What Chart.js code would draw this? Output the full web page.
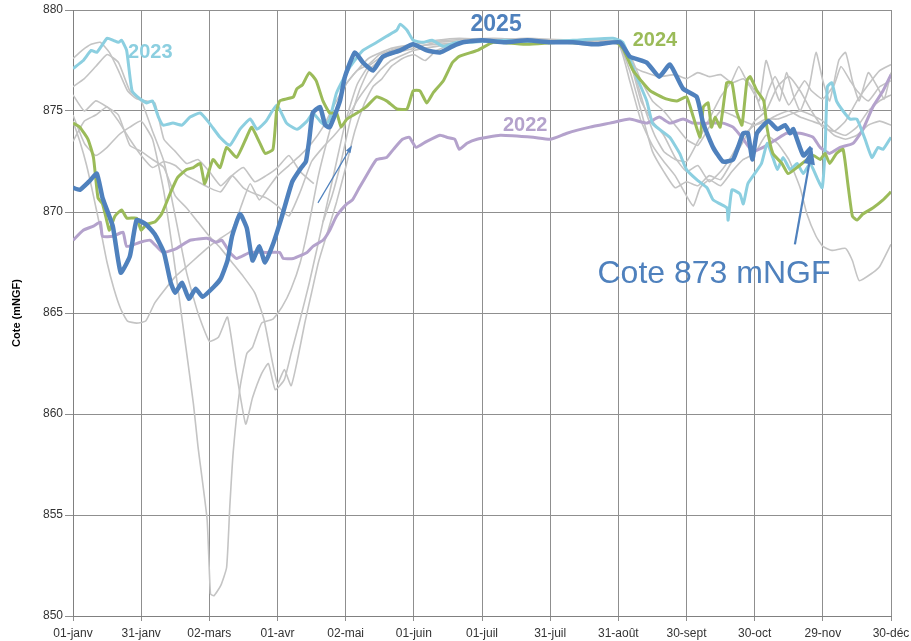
<!DOCTYPE html>
<html lang="fr">
<head>
<meta charset="utf-8">
<title>Cote (mNGF)</title>
<script src="https://cdn.jsdelivr.net/npm/chart.js@4.4.1/dist/chart.umd.min.js"></script>
<style>
  html, body { margin: 0; padding: 0; background: #fff; }
</style>
</head>
<body>
<canvas id="coteChart" width="911" height="641"></canvas>
<script>
// x = jour de l'année (0 = 01-janv), ticks tous les 30 jours
const tickLabels = ["01-janv", "31-janv", "02-mars", "01-avr", "02-mai", "01-juin", "01-juil",
  "31-juil", "31-août", "30-sept", "30-oct", "29-nov", "30-déc"];

// [jour, cote]
const annee2025 = [[0,871.2],[3,871.1],[7,871.5],[10.5,871.9],[13,870.7],[17.5,869.3],[21,867.0],[25,867.8],
  [28,869.6],[32,869.4],[36,868.9],[40,868.0],[43,866.5],[45,866.0],[48,866.5],[51,865.7],[54,866.2],[57,865.8],
  [62,866.3],[65,866.7],[68,867.6],[70,868.8],[73.5,869.9],[76.5,869.2],[79,867.6],[82,868.3],[84.5,867.5],
  [88,868.4],[92,869.8],[96.5,871.5],[100.5,872.2],[102.5,872.5],[104,873.6],[105.5,874.9],[108.7,875.2],
  [111,874.3],[113,874.2],[117.5,875.5],[119.7,876.7],[124,877.9],[127.6,877.4],[132,877.0],[136.4,877.7],
  [144,878.0],[149.6,878.3],[155.7,878.0],[161.5,877.9],[167,878.2],[171.6,878.4],[180,878.5],[190,878.4],
  [200,878.5],[210,878.4],[220,878.4],[230,878.3],[240.7,878.4],[245,877.7],[252.5,877.4],[258,876.7],
  [262.7,877.3],[268.5,876.1],[274.5,875.7],[277.3,874.4],[281.7,873.2],[286,872.5],[290.5,872.6],[295,873.9],
  [297,873.9],[299,872.6],[301,873.9],[306,874.5],[310,874.1],[313.4,874.3],[315.6,873.9],[317,874.1],
  [321.4,872.8],[325,873.2]];

const annee2024 = [[0,874.4],[3,874.2],[6.6,873.6],[9,872.7],[11,870.7],[13,870.4],[15,869.5],[16,869.1],
  [18.5,869.8],[21.4,870.1],[23.7,869.7],[28,869.7],[30,869.1],[32.4,869.4],[36,869.5],[39,869.9],[42.7,870.9],
  [46,871.7],[50,872.1],[53,872.2],[56,872.4],[58,871.4],[61.6,872.6],[64.7,872.2],[67.6,873.2],[72,872.7],
  [76.4,873.7],[78.6,874.2],[82.3,873.4],[84.6,872.9],[88,873.1],[89.6,875.0],[91,875.5],[94,875.6],[97,875.7],
  [98.5,876.1],[101,876.3],[104,876.9],[107,876.5],[110,875.5],[113,874.9],[116,874.9],[118,874.2],[120.5,874.6],
  [125,874.9],[129,875.2],[133.6,875.7],[138,875.5],[142.5,875.1],[147,875.1],[149.7,876.0],[152.7,876.0],
  [155.7,875.4],[158.5,875.9],[163,876.5],[167,877.4],[170,877.7],[178,878.0],[185,878.4],[200,878.3],
  [215,878.4],[230,878.3],[239,878.4],[242,878.1],[246.5,877.0],[250,876.5],[254,876.0],[261,875.6],
  [265.8,875.5],[270,875.7],[273,874.7],[276,873.7],[277.4,875.2],[279.5,875.4],[281,874.2],[282.6,874.7],
  [284.8,874.2],[287.7,876.4],[290,876.4],[292,875.0],[294.4,874.3],[296.6,876.5],[298,876.7],[301,876.0],
  [304,875.5],[305.4,874.2],[308,872.9],[312,872.4],[314.7,871.9],[318.6,872.2],[325.7,872.8],[328.8,872.6],
  [331,872.9],[333,872.4],[336,872.9],[338.9,873.1],[341,871.4],[343,869.8],[345,869.6],[347.6,869.9],
  [352,870.2],[356.5,870.6],[360,871.0]];

const annee2023 = [[0,877.1],[4.5,877.5],[8,878.0],[10.5,877.9],[15,878.6],[17.7,878.5],[20,878.4],[21.4,878.5],
  [23.6,878.0],[26,876.0],[29.5,875.6],[32.5,875.4],[35,875.5],[37.6,874.7],[39.7,874.3],[44,874.4],[48,874.3],
  [51.5,874.7],[56,874.9],[60,874.4],[64.7,873.7],[69,873.3],[73.5,874.1],[78,874.6],[81,874.1],[85,874.5],
  [89.7,875.3],[94,874.4],[98.6,874.1],[103,874.5],[105.6,874.9],[108.7,874.5],[111,874.3],[113,874.6],
  [116,875.9],[122,877.2],[127.6,878.0],[133.7,878.4],[138,878.7],[142.5,879.0],[144,879.3],[147,879.0],
  [149.7,878.5],[154,878.4],[158,878.5],[163,878.2],[169,878.4],[175,878.4],[190,878.5],[205,878.4],
  [220,878.5],[237.7,878.6],[242,878.4],[248,876.7],[252.5,875.5],[255,874.4],[258,874.1],[262.6,873.7],
  [267,872.9],[270,872.1],[274.5,871.6],[279,871.2],[281.7,870.6],[284.8,870.4],[287.8,870.2],[288.3,869.6],
  [290,871.1],[293.5,870.9],[295,870.4],[297,871.4],[300,871.9],[303,872.4],[305.5,873.4],[308,872.7],
  [310,872.1],[312.5,872.7],[315.6,872.1],[318.7,872.4],[321.4,871.9],[324.4,872.4],[327.4,871.7],
  [329.7,871.2],[331,873.1],[332,876.2],[334,876.4],[336,875.5],[338.9,875.0],[342,874.6],[345,874.6],
  [348.6,873.6],[351.6,872.7],[354.3,873.2],[356.5,873.1],[360,873.7]];

const annee2022 = [[0,868.6],[4.5,869.1],[9,869.3],[12,869.5],[13,868.8],[17.6,868.8],[22,869.0],[23.6,868.3],
  [29.5,868.5],[34,868.6],[39.6,868.0],[45.7,868.2],[51.5,868.6],[59,868.7],[63,868.5],[65.5,868.6],[69,868.0],
  [72,867.7],[78,868.0],[85,868.0],[91,868.0],[92.5,867.7],[97,867.7],[103,868.0],[105.6,868.3],[110,868.6],
  [113,869.1],[116,869.8],[120.5,870.4],[123,870.6],[126,871.2],[130.7,872.1],[133.6,872.6],[138,872.7],
  [141,873.1],[145,873.6],[148,873.7],[151,873.2],[155.7,873.5],[161.5,873.8],[164.5,873.7],[168,873.6],
  [170,873.1],[173.4,873.4],[177.8,873.6],[188,873.8],[202.5,873.7],[210,873.6],[217.4,873.9],[227.5,874.2],
  [236.3,874.4],[245,874.6],[252.6,874.4],[258,874.7],[262.7,874.4],[268.5,874.6],[273,874.4],[280.4,874.4],
  [286,874.4],[290.5,874.2],[295,873.6],[299,873.0],[303.7,873.2],[309.7,873.6],[314,873.9],[320,873.9],
  [325.7,873.7],[328.8,873.2],[333,872.9],[337.6,873.2],[343.3,873.4],[347.7,874.1],[352,875.2],[356.5,876.0],
  [360,876.8]];

// années antérieures (gris)
const hist1 = [[0,874.8],[5,873.4],[10,872.8],[15,873.2],[20,873.8],[25,874.2],[30,874.5],[35,873.6],[40,871.0],
  [44,868.0],[48,864.7],[53,860.5],[55,858.4],[59,854.8],[60.5,851.1],[62,851.0],[65,851.5],[67.6,852.4],
  [69,855.4],[70.5,858.1],[73.5,861.3],[76.5,863.0],[79,863.3],[83,864.5],[88,864.7],[92,865.3],[96,866.2],
  [100,867.5],[104,869.5],[108,871.8],[112,873.6],[116,875.2],[120,876.3],[125,877.0],[130,877.3],[135,877.8],
  [140,878.0],[150,878.2],[160,878.3],[175,878.4],[195,878.5],[215,878.4],[240,878.4],[245,877.5],[250,875.5],
  [255,874.5],[260,873.8],[265,872.7],[270,872.0],[275,872.3],[280,871.5],[285,872.0],[290,872.8],[295,873.8],
  [300,874.3],[305,874.6],[310,874.6],[315,874.8],[320,875.0],[325,874.8],[330,874.5],[335,874.0],[340,873.8],
  [345,874.2],[350,875.0],[355,875.5],[360,875.8]];

const hist2 = [[0,876.2],[5,876.6],[10,877.2],[15,877.8],[20,877.4],[25,876.0],[30,875.5],[35,874.0],[40,872.5],
  [45,869.8],[50,867.0],[55,865.0],[60,863.6],[64,863.8],[68,864.8],[72,862.0],[76,859.5],[79,860.8],[83,862.0],
  [86,862.5],[89,861.2],[93,861.7],[96,863.0],[100,864.7],[104,866.5],[108,868.5],[112,870.5],[116,872.5],
  [120,874.5],[125,876.3],[130,877.2],[140,878.0],[150,878.3],[160,878.5],[170,878.6],[190,878.5],[210,878.5],
  [230,878.4],[240,878.3],[245,877.0],[250,875.0],[255,873.0],[260,872.0],[265,871.2],[270,871.5],[275,871.3],
  [280,871.8],[285,871.6],[290,872.5],[295,873.5],[300,874.5],[305,875.0],[310,876.2],[315,876.7],[320,876.0],
  [325,875.0],[330,874.2],[335,874.0],[340,874.5],[345,875.5],[350,876.3],[355,877.0],[360,877.3]];

const hist3 = [[0,875.8],[5,875.0],[10,875.5],[15,875.2],[20,874.8],[25,873.3],[30,873.0],[35,872.6],[40,872.2],
  [45,870.8],[50,870.2],[55,869.5],[60,868.8],[65,868.2],[70,867.5],[75,866.8],[80,866.0],[84,864.7],[87,863.0],
  [90,861.5],[93,862.2],[96,861.4],[99,862.8],[102,864.5],[105,866.0],[108,867.5],[112,869.0],[116,870.5],
  [120,872.2],[124,874.0],[128,875.3],[132,876.2],[136,876.6],[140,877.2],[145,877.6],[150,877.8],[155,877.5],
  [160,878.0],[170,878.4],[190,878.5],[210,878.5],[230,878.5],[240,878.4],[245,877.8],[250,876.5],[255,875.5],
  [260,875.0],[265,874.3],[270,873.6],[275,873.3],[280,874.2],[285,875.0],[290,874.8],[295,874.5],[300,874.3],
  [305,874.5],[310,874.8],[315,875.0],[320,874.7],[325,874.5],[330,874.3],[335,873.8],[340,873.6],[345,873.8],
  [350,874.3],[355,874.5],[360,874.3]];

const hist4 = [[0,874.5],[3,873.5],[6,872.3],[9,870.8],[12,869.2],[15,867.5],[18,866.2],[21,865.2],[24,864.6],
  [28,864.5],[32,864.6],[36,865.5],[40,866.1],[45,866.8],[50,867.3],[55,867.8],[60,868.3],[65,868.7],[70,869.1],
  [75,870.6],[78,871.4],[82,870.6],[86,871.2],[90,871.8],[95,872.3],[100,872.8],[105,873.4],[110,874.2],
  [115,875.3],[120,876.3],[125,877.0],[130,877.6],[140,878.1],[150,878.3],[165,878.5],[185,878.6],[205,878.5],
  [225,878.4],[240,878.4],[244,877.6],[248,876.5],[252,875.0],[256,873.8],[260,873.0],[265,872.6],[270,872.5],
  [275,873.5],[280,874.6],[285,875.7],[290,876.5],[293,877.2],[296,876.6],[300,876.0],[303,875.0],[306,876.0],
  [309,876.7],[312,876.0],[315,875.3],[318,875.8],[322,876.5],[325,876.0],[330,875.6],[335,876.3],[338,877.2],
  [342,876.5],[345,876.0],[350,875.5],[355,876.2],[360,876.5]];

const hist5 = [[0,877.6],[4,878.0],[8,878.3],[12,878.4],[16,877.9],[20,877.0],[24,876.0],[28,875.6],[32,875.5],
  [36,875.4],[40,873.6],[45,873.0],[50,872.4],[55,872.6],[60,872.0],[65,871.3],[70,871.8],[75,871.2],[80,870.9],
  [85,870.7],[90,870.3],[95,869.8],[100,871.0],[105,872.5],[110,873.2],[115,873.8],[120,874.5],[125,875.5],
  [130,876.3],[135,877.0],[140,877.5],[150,878.0],[160,878.2],[175,878.4],[200,878.5],[225,878.4],[240,878.3],
  [245,876.5],[250,874.5],[255,873.3],[260,872.5],[265,871.8],[270,870.8],[273,870.3],[276,871.2],[280,871.6],
  [285,871.3],[290,872.0],[295,872.6],[300,872.9],[305,873.8],[310,873.4],[315,872.6],[320,871.2],[323,869.9],
  [327,868.8],[330,868.3],[334,868.1],[340,868.2],[343,867.6],[346,866.6],[352,867.0],[355,867.3],[360,868.4]];

const hist6 = [[0,873.5],[5,874.5],[10,874.8],[15,875.2],[20,874.5],[25,873.6],[30,872.8],[35,872.2],[40,872.5],
  [45,872.3],[50,871.8],[55,871.5],[60,871.2],[65,871.0],[70,871.8],[75,872.2],[80,871.5],[85,871.8],[90,872.2],
  [95,872.8],[100,872.0],[106,871.4],[108,null],[110,869.5],[114,870.8],[118,872.5],[122,874.5],[126,876.0],
  [130,877.0],[135,877.5],[140,877.8],[150,878.1],[160,878.4],[180,878.5],[200,878.6],[220,878.5],[240,878.4],
  [244,877.6],[248,877.1],[252,876.9],[258,876.7],[265,876.8],[270,876.6],[275,876.9],[280,876.7],[285,876.8],
  [290,876.4],[295,876.6],[298,876.2],[302,875.5],[305,877.5],[308,876.4],[311,875.5],[314,876.9],[317,875.8],
  [320,875.0],[324,876.2],[327,877.9],[330,876.5],[333,875.5],[337,877.5],[340,877.9],[343,876.5],[346,875.5],
  [350,876.9],[354,876.2],[357,875.6],[360,876.9]];

const COL_2025 = "#4f81bd";
const COL_2024 = "#9bbb59";
const COL_2023 = "#8ccfe0";
const COL_2022 = "#b4a2cc";
const COL_GRIS = "#c4c4c4";
const FONT = "'Liberation Sans', Arial, sans-serif";

const toPoints = arr => arr.map(([x, y]) => ({ x, y }));

function serie(label, data, color, width, order) {
  return {
    label,
    data: toPoints(data),
    borderColor: color,
    borderWidth: width,
    borderJoinStyle: "round",
    pointRadius: 0,
    tension: 0.15,
    spanGaps: false,
    fill: false,
    order
  };
}

// étiquettes et flèches dessinées par-dessus
const etiquettes = [
  { text: "2023", day: 34, cote: 877.9, color: COL_2023, font: "bold 20px " + FONT },
  { text: "2025", day: 186.2, cote: 879.25, color: COL_2025, font: "bold 23px " + FONT },
  { text: "2024", day: 256.1, cote: 878.5, color: COL_2024, font: "bold 20px " + FONT },
  { text: "2022", day: 199, cote: 874.3, color: COL_2022, font: "bold 20px " + FONT },
  { text: "Cote 873 mNGF", day: 282.1, cote: 866.9, color: COL_2025, font: "32px " + FONT }
];
const fleches = [
  { from: [317.7, 868.4], to: [325.3, 873.2], width: 2.2, head: 18, color: COL_2025 },
  { from: [107.8, 870.45], to: [122.8, 873.3], width: 1.2, head: 8, color: COL_2025 }
];

function drawArrow(ctx, x1, y1, x2, y2, width, head, color) {
  const ang = Math.atan2(y2 - y1, x2 - x1);
  ctx.save();
  ctx.strokeStyle = color;
  ctx.fillStyle = color;
  ctx.lineWidth = width;
  ctx.beginPath();
  ctx.moveTo(x1, y1);
  ctx.lineTo(x2 - head * 0.8 * Math.cos(ang), y2 - head * 0.8 * Math.sin(ang));
  ctx.stroke();
  ctx.beginPath();
  ctx.moveTo(x2, y2);
  ctx.lineTo(x2 - head * Math.cos(ang - 0.33), y2 - head * Math.sin(ang - 0.33));
  ctx.lineTo(x2 - head * Math.cos(ang + 0.33), y2 - head * Math.sin(ang + 0.33));
  ctx.closePath();
  ctx.fill();
  ctx.restore();
}

const annotationsPlugin = {
  id: "annotations",
  afterDatasetsDraw(chart) {
    const { ctx, scales: { x, y } } = chart;
    etiquettes.forEach(e => {
      ctx.save();
      ctx.font = e.font;
      ctx.fillStyle = e.color;
      ctx.textAlign = "center";
      ctx.textBaseline = "middle";
      ctx.fillText(e.text, x.getPixelForValue(e.day), y.getPixelForValue(e.cote));
      ctx.restore();
    });
    fleches.forEach(f => {
      drawArrow(ctx,
        x.getPixelForValue(f.from[0]), y.getPixelForValue(f.from[1]),
        x.getPixelForValue(f.to[0]), y.getPixelForValue(f.to[1]),
        f.width, f.head, f.color);
    });
  }
};

const ctx = document.getElementById("coteChart");

new Chart(ctx, {
  type: "line",
  data: {
    datasets: [
      serie("2025", annee2025, COL_2025, 4.5, 0),
      serie("2024", annee2024, COL_2024, 3, 1),
      serie("2023", annee2023, COL_2023, 3, 2),
      serie("2022", annee2022, COL_2022, 3, 3),
      serie("hist1", hist1, COL_GRIS, 1.6, 10),
      serie("hist2", hist2, COL_GRIS, 1.6, 10),
      serie("hist3", hist3, COL_GRIS, 1.6, 10),
      serie("hist4", hist4, COL_GRIS, 1.6, 10),
      serie("hist5", hist5, COL_GRIS, 1.6, 10),
      serie("hist6", hist6, COL_GRIS, 1.6, 10)
    ]
  },
  options: {
    responsive: false,
    animation: false,
    layout: { padding: { top: 10, right: 20, left: 0, bottom: 0 } },
    plugins: {
      legend: { display: false },
      tooltip: { enabled: false }
    },
    scales: {
      x: {
        type: "linear",
        min: 0,
        max: 360,
        ticks: {
          stepSize: 30,
          autoSkip: false,
          maxRotation: 0,
          padding: 5,
          color: "#333",
          font: { family: FONT, size: 12 },
          callback: v => tickLabels[v / 30]
        },
        grid: { color: "#8f8f8f", lineWidth: 1, tickLength: 5 },
        border: { color: "#808080", width: 1 },
        afterFit: scale => {
          scale.height = 25;
          // les étiquettes débordent dans la marge, comme sur l'original
          scale.paddingLeft = 0;
          scale.paddingRight = 0;
        }
      },
      y: {
        min: 850,
        max: 880,
        ticks: {
          stepSize: 5,
          padding: 2,
          color: "#333",
          font: { family: FONT, size: 12 }
        },
        grid: { color: "#8f8f8f", lineWidth: 1, tickLength: 8 },
        border: { color: "#808080", width: 1 },
        title: {
          display: true,
          text: "Cote (mNGF)",
          color: "#000",
          font: { family: FONT, size: 11, weight: "bold" },
          padding: { top: 10, bottom: 0 }
        },
        afterFit: scale => { scale.width = 73; }
      }
    }
  },
  plugins: [annotationsPlugin]
});
</script>
</body>
</html>
